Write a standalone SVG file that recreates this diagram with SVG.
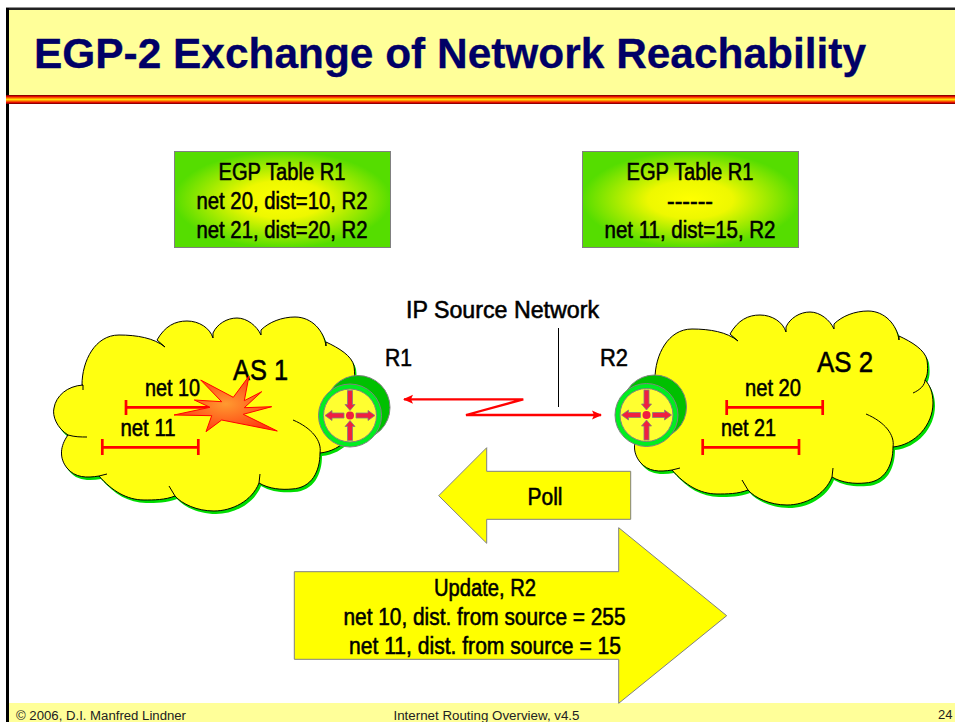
<svg xmlns="http://www.w3.org/2000/svg" width="955" height="722" viewBox="0 0 955 722">
<style>
.t{font-family:"Liberation Sans",Arial,sans-serif;font-size:23px;fill:#000;stroke:#000;stroke-width:.55;text-anchor:middle}
.big{font-size:29px}
.bar{stroke:#f00;stroke-width:2.7;fill:none}
.ar{fill:#ff0;stroke:#808080;stroke-width:1}
.tb{fill:url(#tg);stroke:#808080;stroke-width:1}
.foot{font-family:"Liberation Sans",Arial,sans-serif;font-size:12.5px;fill:#222}
.cf{fill:#ffff10;stroke:#000;stroke-width:1;stroke-linejoin:round}
.cs{fill:#00dd00}
.ci{fill:none;stroke:#000;stroke-width:1}
.ra{fill:#f02040;stroke:#808080;stroke-width:.8}
</style>
<defs>
<radialGradient id="tg" cx=".5" cy=".5" r=".56"><stop offset="0" stop-color="#ff0"/><stop offset=".35" stop-color="#eef800"/><stop offset=".9" stop-color="#55dd00"/><stop offset="1" stop-color="#55dd00"/></radialGradient>
<radialGradient id="sg" cx=".5" cy=".5" r=".55"><stop offset="0" stop-color="#ff9a30"/><stop offset="1" stop-color="#ff3a10"/></radialGradient>
<linearGradient id="rule" x1="0" y1="0" x2="0" y2="1"><stop offset="0" stop-color="#600000"/><stop offset=".15" stop-color="#e00000"/><stop offset=".35" stop-color="#ff8000"/><stop offset=".5" stop-color="#ffe000"/><stop offset=".65" stop-color="#ff8000"/><stop offset=".85" stop-color="#e00000"/><stop offset="1" stop-color="#600000"/></linearGradient>
<marker id="ah" markerWidth="11" markerHeight="10" refX="9" refY="5" orient="auto-start-reverse" markerUnits="userSpaceOnUse"><path d="M0 0.500L10 5L0 9.500L2 5Z" fill="#f00"/></marker>
<path id="cloud" d="M655 379C655 355 668 329 692 329C710 329 727 332 738 341L730 334C738 320 748 315 760 315C772 315 783 322 786 332L786 327C790 318 800 312 810 312C820 312 830 320 834 329L834 324C842 316 855 311 868 311C885 311 897 325 899 340L899 336C912 342 925 350 927 360C928 368 928 375 925 380C930 385 933 393 933 403C933 425 915 445 893 447C893 465 885 482 865 483C855 484 842 483 832 477C825 495 805 505 787 505C770 505 755 498 748 490C738 494 727 494 717 494C700 494 685 485 672 470C660 472 648 472 640 462C632 452 633 440 641 429C630 422 625 410 627 402C629 390 640 380 656 379Z"/>
<path id="cloudin" d="M925 380C925 385 920 390 913 393M866 414C885 422 895 435 893 447M832 477L833 468M748 490L742 480M672 470L680 468M641 429C648 431 654 431 660 431M656 379L656 384"/>
<g id="router">
<circle cx="8" cy="-8" r="32" fill="#00c000" stroke="#808080" stroke-width="1"/>
<circle cx="0" cy="0" r="31.5" fill="#00ee20" stroke="#808080" stroke-width="1"/>
<circle cx="0" cy="0" r="26.5" fill="#ffff30" stroke="#808080" stroke-width="1"/>
<circle cx="0" cy="0" r="4" fill="#f02040"/>
<path class="ra" d="M-2.500-25H2.500V-11H5L0-5L-5-11H-2.500Z"/>
<path class="ra" d="M-2.500 25H2.500V11H5L0 5L-5 11H-2.500Z"/>
<path class="ra" d="M-6-2.500H-18V-5L-25 0L-18 5V2.500H-6Z"/>
<path class="ra" d="M6-2.500H18V-5L25 0L18 5V2.500H6Z"/>
</g>
</defs>
<rect width="955" height="722" fill="#fff"/>
<rect x="9" y="9" width="946" height="87" fill="#ffff99"/>
<rect x="9" y="703" width="946" height="19" fill="#ffff99"/>
<rect x="6" y="7.500" width="949" height="2.500" fill="#222"/>
<rect x="6" y="8" width="3" height="714" fill="#000"/>
<rect x="6" y="95" width="949" height="9" fill="url(#rule)"/>
<text x="34" y="68" font-family="'Liberation Sans',Arial,sans-serif" font-weight="700" font-size="43" fill="#000066" stroke="#000066" stroke-width=".3" textLength="832" lengthAdjust="spacingAndGlyphs">EGP-2 Exchange of Network Reachability</text>

<g id="table-r1">
<rect class="tb" x="174.500" y="151.500" width="216" height="96"/>
<text class="t" x="282" y="180" textLength="127" lengthAdjust="spacingAndGlyphs">EGP Table R1</text>
<text class="t" x="282" y="209" textLength="171" lengthAdjust="spacingAndGlyphs">net 20, dist=10, R2</text>
<text class="t" x="282" y="238" textLength="171" lengthAdjust="spacingAndGlyphs">net 21, dist=20, R2</text>
</g>
<g id="table-r2">
<rect class="tb" x="582.500" y="151.500" width="216" height="96"/>
<text class="t" x="690" y="180" textLength="127" lengthAdjust="spacingAndGlyphs">EGP Table R1</text>
<text class="t" x="690" y="209">------</text>
<text class="t" x="690" y="238" textLength="171" lengthAdjust="spacingAndGlyphs">net 11, dist=15, R2</text>
</g>

<g id="as1">
<use href="#cloud" class="cs" transform="translate(-571,9)"/>
<use href="#cloud" class="cf" transform="translate(-573,6)"/>
<use href="#cloudin" class="ci" transform="translate(-573,6)"/>
<text class="t big" x="260.500" y="380" textLength="55" lengthAdjust="spacingAndGlyphs">AS 1</text>
<text class="t" x="172.500" y="396" textLength="55" lengthAdjust="spacingAndGlyphs">net 10</text>
<text class="t" x="148" y="436" textLength="55" lengthAdjust="spacingAndGlyphs">net 11</text>
<path class="bar" d="M126 400V415M126 407.300H215M102.300 439V455M102.300 447.300H198.300M198.300 439V455"/>
<polygon points="200.700,380 233.300,397.300 249,376 244.300,400.700 261.700,391.700 244.300,407.700 271.700,406.700 243.300,414.300 277.300,431 221.700,420 206,431.700 211.700,415.700 174,415 210,407.300 194.300,400 221.700,401.700" fill="url(#sg)" stroke="#f00" stroke-width="1"/>
</g>
<g id="as2">
<use href="#cloud" class="cs" transform="translate(2,3)"/>
<use href="#cloud" class="cf"/>
<use href="#cloudin" class="ci"/>
<text class="t big" x="845" y="372" textLength="56" lengthAdjust="spacingAndGlyphs">AS 2</text>
<text class="t" x="773" y="396" textLength="56" lengthAdjust="spacingAndGlyphs">net 20</text>
<text class="t" x="748.500" y="436" textLength="55" lengthAdjust="spacingAndGlyphs">net 21</text>
<path class="bar" d="M726.700 400V415M726.700 407.300H822.700M822.700 400V415M702.700 439V455M702.700 447.300H799M799 439V455"/>
</g>
<g id="r1"><use href="#router" transform="translate(350,415.500)"/><text class="t" x="398.500" y="366" textLength="27" lengthAdjust="spacingAndGlyphs">R1</text></g>
<g id="r2"><use href="#router" transform="translate(646.500,415)"/><text class="t" x="614" y="366" textLength="28" lengthAdjust="spacingAndGlyphs">R2</text></g>

<g id="connectors">
<path d="M601 415H466L523.300 399.300H404" fill="none" stroke="#f00" stroke-width="2.300" marker-start="url(#ah)" marker-end="url(#ah)"/>
<path d="M558.500 328V407" fill="none" stroke="#000" stroke-width="1"/>
</g>
<g id="ip-source"><text class="t" x="502.500" y="318" textLength="193" lengthAdjust="spacingAndGlyphs">IP Source Network</text></g>

<g id="poll">
<polygon class="ar" points="438.700,495.700 486.700,447.700 486.700,471.300 630.700,471.300 630.700,519.300 486.700,519.300 486.700,543.300"/>
<text class="t" x="545" y="505" textLength="35" lengthAdjust="spacingAndGlyphs">Poll</text>
</g>
<g id="update">
<polygon class="ar" points="294.300,571.700 618.700,571.700 618.700,527.700 726.700,615.700 618.700,703.300 618.700,659.300 294.300,659.300"/>
<text class="t" x="485" y="596" textLength="102" lengthAdjust="spacingAndGlyphs">Update, R2</text>
<text class="t" x="484.500" y="625" textLength="282" lengthAdjust="spacingAndGlyphs">net 10, dist. from source = 255</text>
<text class="t" x="485" y="654" textLength="272" lengthAdjust="spacingAndGlyphs">net 11, dist. from source = 15</text>
</g>
<text class="foot" x="16" y="719.500" textLength="170" lengthAdjust="spacingAndGlyphs">© 2006, D.I. Manfred Lindner</text>
<text class="foot" x="393.500" y="719.500" textLength="186" lengthAdjust="spacingAndGlyphs">Internet Routing Overview, v4.5</text>
<text class="foot" x="938" y="719" style="font-size:13px">24</text>
</svg>
